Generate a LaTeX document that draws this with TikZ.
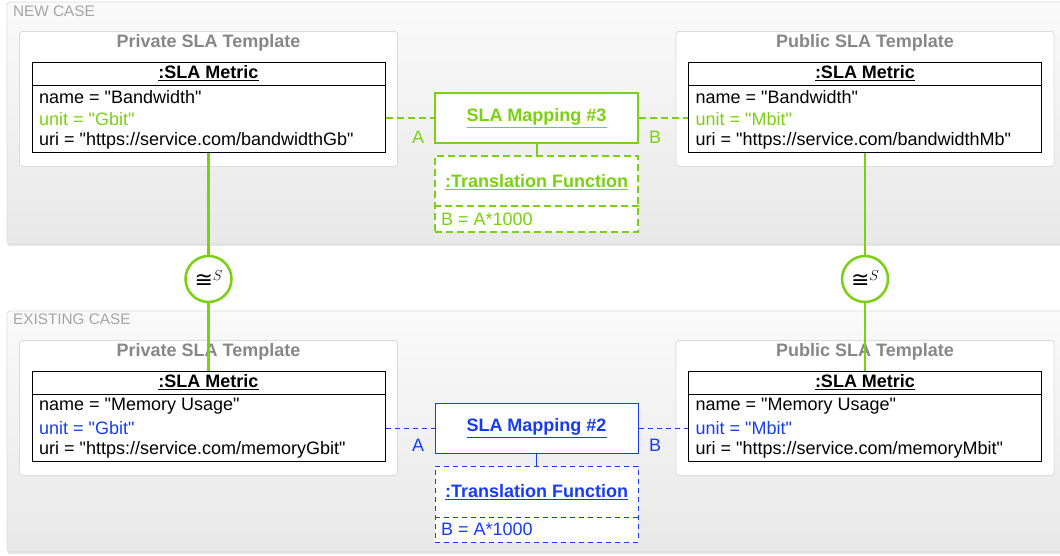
\documentclass[tikz,border=0pt]{standalone}
\usepackage{fontspec}
\defaultfontfeatures{}
\defaultfontfeatures[\rmfamily,\sffamily]{}
\setmainfont{Liberation Sans}[Ligatures=ResetAll]
\newfontfamily\symfam{DejaVu Sans}
\usetikzlibrary{calc}
\definecolor{cgreen}{RGB}{122,209,18}
\definecolor{cblue}{RGB}{22,60,245}
\definecolor{ctitle}{RGB}{135,135,135}
\definecolor{ccase}{RGB}{165,165,165}
\tikzset{
  casebox/.style={draw=black!14, line width=0.8pt, rounded corners=3pt, top color=black!2, bottom color=black!9},
  caselabel/.style={font=\fontsize{15.3}{17}\selectfont, text=ccase, inner sep=0pt, anchor=west},
  tplbox/.style={draw=black!14, line width=0.8pt, fill=white, rounded corners=3pt, minimum width=378pt, minimum height=135pt, anchor=north, inner sep=0pt},
  tpltitle/.style={font=\fontsize{18}{21}\selectfont\bfseries, text=ctitle, inner sep=0pt},
  metrichead/.style={draw=black, line width=1pt, minimum width=353pt, minimum height=23pt, inner sep=0pt, font=\fontsize{18}{21}\selectfont\bfseries},
  metricbody/.style={draw=black, line width=1pt, minimum width=353pt, minimum height=67pt, inner sep=0pt},
  rowtxt/.style={font=\fontsize{18}{21}\selectfont, inner sep=0pt, anchor=west},
  mapbox/.style={fill=white, minimum width=203pt, minimum height=50pt, inner sep=0pt, font=\fontsize{18}{21}\selectfont\bfseries},
  tfbox/.style={fill=white, dashed, minimum width=203pt, minimum height=76pt, inner sep=0pt},
  tftitle/.style={font=\fontsize{18}{21}\selectfont\bfseries, inner sep=0pt},
  endlabel/.style={font=\fontsize{18}{21}\selectfont, inner sep=0pt},
  gthick/.style={draw=cgreen, line width=2.5pt},
  gdash/.style={draw=cgreen, line width=2.4pt, dash pattern=on 7pt off 4pt},
  bthin/.style={draw=cblue, line width=1pt},
  bdash/.style={draw=cblue, line width=1pt, dash pattern=on 5pt off 4pt},
  simcircle/.style={circle, draw=cgreen, line width=2.5pt, fill=white, minimum size=46pt, inner sep=0pt},
}
\newcommand\slametric[8]{%
  \node[tplbox] (#1tpl) at (#2,#3) {};
  \node[tpltitle] (#1title) at (#2,#3+12) {#4};
  \node[metrichead] (#1head) at (#2,#3+42.5) {\underline{:SLA Metric}};
  \node[metricbody] (#1body) at (#2,#3+87.5) {};
  \node[rowtxt] (#1name) at (#2-169.5,#3+66) {#5};
  \node[rowtxt, text=#8] (#1unit) at (#2-169.5,#3+88) {#6};
  \node[rowtxt] (#1uri) at (#2-169.5,#3+110) {#7};
}
\newcommand\simsym{{\symfam\fontsize{22}{24}\selectfont ≅}\raisebox{7pt}{\fontsize{15}{16}\selectfont$S$}}
\begin{document}
\begin{tikzpicture}[x=1pt,y=-1pt]
\useasboundingbox (0,0) rectangle (1060,555);
\clip (0,0) rectangle (1060,555);
% case frames
\fill[black!10] (8,4) rectangle (1070,246);
\path[casebox] (7,2) rectangle (1068,244);
\node[caselabel] (lnew) at (13,11) {NEW CASE};
\fill[black!10] (8,313) rectangle (1070,554);
\path[casebox] (7,311) rectangle (1068,552);
\node[caselabel] (lold) at (13,319) {EXISTING CASE};
% templates
\slametric{pN}{208.5}{31}{Private SLA Template}{name = "Bandwidth"}{unit = "Gbit"}{uri = "https://service.com/bandwidthGb"}{cgreen}
\slametric{uN}{865}{31}{Public SLA Template}{name = "Bandwidth"}{unit = "Mbit"}{uri = "https://service.com/bandwidthMb"}{cgreen}
\slametric{pE}{208.5}{340}{Private SLA Template}{name = "Memory Usage"}{unit = "Gbit"}{uri = "https://service.com/memoryGbit"}{cblue}
\slametric{uE}{865}{340}{Public SLA Template}{name = "Memory Usage"}{unit = "Mbit"}{uri = "https://service.com/memoryMbit"}{cblue}
% new case mapping
\node[mapbox, gthick, text=cgreen] (mapN) at (536.5,118) {\underline{SLA Mapping \#3}};
\node[tfbox, gdash] (tfN) at (536.5,194) {};
\draw[gdash] (tfN.west |- 0,206) -- (tfN.east |- 0,206);
\node[tftitle, text=cgreen] (tftN) at (536.5,182) {\underline{:Translation Function}};
\node[rowtxt, text=cgreen] (tfeN) at (441,219) {B = A*1000};
\draw[draw=cgreen, line width=2pt] (mapN) -- (tfN);
\draw[gdash] (pNbody.east |- mapN.west) -- (mapN.west);
\draw[gdash] (mapN.east) -- (uNbody.west |- mapN.east);
\node[endlabel, text=cgreen] (aN) at (418,137) {A};
\node[endlabel, text=cgreen] (bN) at (655,137) {B};
% existing case mapping
\node[mapbox, bthin, text=cblue] (mapE) at (536.5,428) {\underline{SLA Mapping \#2}};
\node[tfbox, bdash] (tfE) at (536.5,504) {};
\draw[bdash] (tfE.west |- 0,517) -- (tfE.east |- 0,517);
\node[tftitle, text=cblue] (tftE) at (536.5,492) {\underline{:Translation Function}};
\node[rowtxt, text=cblue] (tfeE) at (441,529) {B = A*1000};
\draw[bthin] (mapE) -- (tfE);
\draw[bdash] (pEbody.east |- mapE.west) -- (mapE.west);
\draw[bdash] (mapE.east) -- (uEbody.west |- mapE.east);
\node[endlabel, text=cblue] (aE) at (418,445) {A};
\node[endlabel, text=cblue] (bE) at (655,445) {B};
% similarity links
\node[simcircle] (simL) at (208.5,279) {\simsym};
\node[simcircle] (simR) at (865,279) {\simsym};
\draw[gthick] (pNbody.south) -- (simL) -- (pEhead.north);
\draw[gthick] (uNbody.south) -- (simR) -- (uEhead.north);
\end{tikzpicture}
\end{document}
